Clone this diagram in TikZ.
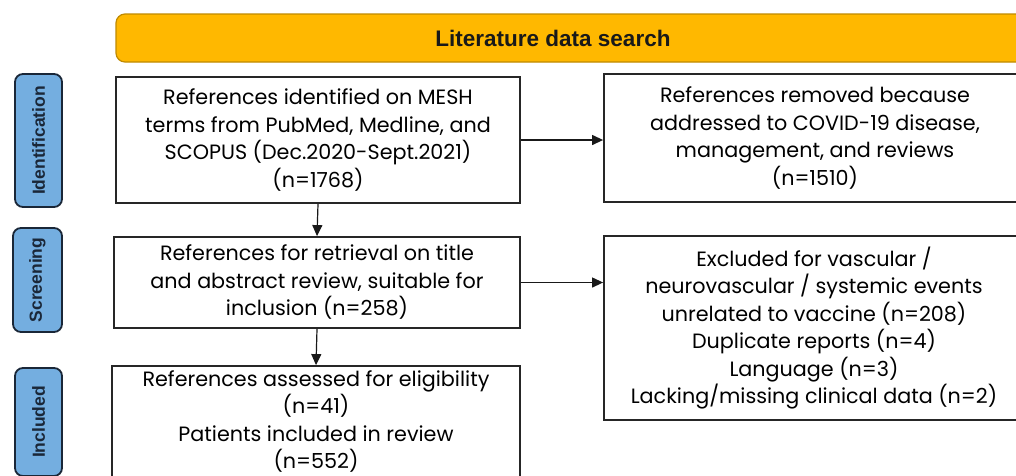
\documentclass[tikz,border=0pt]{standalone}
\usepackage{fontspec}
\setmainfont{Poppins}
\newfontfamily\tagfont{Liberation Sans}
\usepackage{tikz}
\usetikzlibrary{arrows.meta, positioning, calc}
\definecolor{BannerAmber}{HTML}{FFB800}
\definecolor{BannerEdge}{HTML}{C08A00}
\definecolor{TagBlue}{HTML}{74AEE0}
\definecolor{TagNavy}{HTML}{1A2738}
\tikzset{
  refbox/.style={rectangle, draw=black!85, line width=1.8pt, fill=white, inner sep=0pt, align=center, font=\fontsize{20.7}{27.5}\selectfont},
  phasetag/.style={rectangle, rounded corners=8pt, draw=TagNavy, line width=1.8pt, fill=TagBlue, rotate=90, inner sep=0pt, text=TagNavy, font=\tagfont\bfseries\fontsize{17.5}{19}\selectfont},
  bannertext/.style={font=\tagfont\bfseries\fontsize{22.5}{24}\selectfont, text=black!90},
  arrow/.style={-{Triangle[length=11pt, width=10pt]}, line width=1.2pt, black!90}
}
\begin{document}
\begin{tikzpicture}[x=1pt, y=-1pt]
  \path[use as bounding box, clip] (0,0) rectangle (1016,475);
  \fill[white] (0,0) rectangle (1016,475);

  % Banner
  \draw[fill=BannerAmber, draw=BannerEdge, line width=1.2pt, rounded corners=9pt] (116,14) rectangle (1040,62);
  \node[bannertext] (search) at (553,38) {Literature data search};

  % Phase tags
  \node[phasetag, minimum width=133pt, minimum height=47pt] (tagid) at (38.5,140.5) {Identification};
  \node[phasetag, minimum width=104pt, minimum height=49pt] (tagscr) at (37.5,280) {Screening};
  \node[phasetag, minimum width=108pt, minimum height=47pt] (taginc) at (38.5,422) {Included};

  % Main flow
  \node[refbox, minimum width=404pt, minimum height=126pt] (found) at (318,140) {References identified on MESH\\terms from PubMed, Medline, and\\SCOPUS (Dec.2020-Sept.2021)\\(n=1768)};
  \node[refbox, minimum width=406pt, minimum height=91pt] (retrieved) at (317,282.5) {References for retrieval on title\\and abstract review, suitable for\\inclusion (n=258)};
  \node[refbox, minimum width=408pt, minimum height=111pt] (assessed) at (316,421.5) {References assessed for eligibility\\(n=41)\\Patients included in review\\(n=552)};

  % Exclusions
  \node[refbox, minimum width=422pt, minimum height=128pt] (removed) at (815,138) {References removed because\\addressed to COVID-19 disease,\\management, and reviews\\(n=1510)};
  \node[refbox, minimum width=420pt, minimum height=184pt] (excluded) at (814,328) {Excluded for vascular /\\neurovascular / systemic events\\unrelated to vaccine (n=208)\\Duplicate reports (n=4)\\Language (n=3)\\Lacking/missing clinical data (n=2)};

  % Connectors
  \draw[arrow] (found.south) -- (retrieved.north);
  \draw[arrow] (retrieved.south) -- (assessed.north);
  \draw[arrow] (found.east) -- (found.east -| removed.west);
  \draw[arrow] (retrieved.east) -- (retrieved.east -| excluded.west);
\end{tikzpicture}
\end{document}
